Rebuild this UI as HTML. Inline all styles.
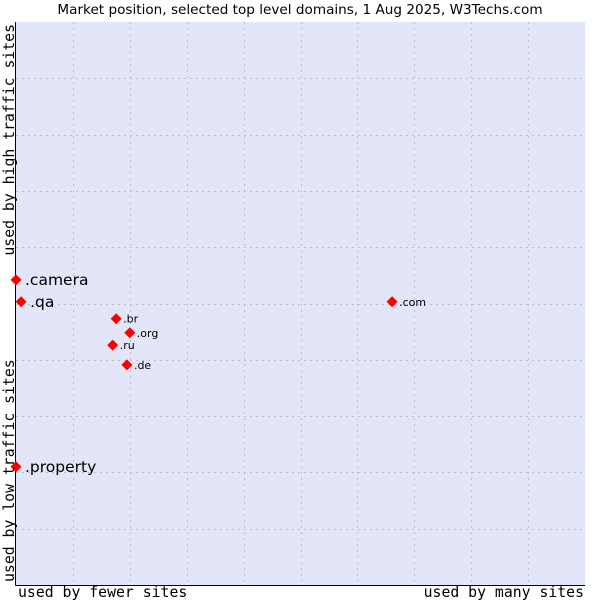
<!DOCTYPE html>
<html><head><meta charset="utf-8"><style>
body{margin:0;background:#fff;width:600px;height:600px;overflow:hidden}
svg{display:block}
</style></head><body>
<svg width="600" height="600" xmlns="http://www.w3.org/2000/svg">
<text x="300" y="14" text-anchor="middle" font-family="DejaVu Sans, sans-serif" font-size="13.6">Market position, selected top level domains, 1 Aug 2025, W3Techs.com</text>
<rect x="16" y="22" width="569" height="563" fill="#e3e5f8"/>
<g id="grid"></g>
<line x1="15.5" y1="22" x2="15.5" y2="585.5" stroke="#000"/>
<line x1="15.5" y1="585.5" x2="585" y2="585.5" stroke="#000"/>
<g id="points"></g>
<text x="18" y="597" font-family="DejaVu Sans Mono, monospace" font-size="14.8">used by fewer sites</text>
<text x="584" y="597" text-anchor="end" font-family="DejaVu Sans Mono, monospace" font-size="14.8">used by many sites</text>
<text transform="translate(14,582) rotate(-90)" font-family="DejaVu Sans Mono, monospace" font-size="14.8">used by low traffic sites</text>
<text transform="translate(14,24) rotate(-90)" text-anchor="end" font-family="DejaVu Sans Mono, monospace" font-size="14.8">used by high traffic sites</text>
</svg>
<script>
const labels=[".camera",".qa",".br",".org",".ru",".de",".com",".property"];
const xVals=[0,0.9,17.6,20.0,17.0,19.5,66.1,0];
const yVals=[54.2,50.3,47.3,44.8,42.6,39.1,50.3,21.0];
const bigLabel=[true,true,false,false,false,false,false,true];
const L=16,R=585,T=22,B=585;
const sx=v=>L+v/100*(R-L), sy=v=>B-v/100*(B-T);
const NS="http://www.w3.org/2000/svg";
const grid=document.getElementById('grid');
for(let i=1;i<10;i++){
  const x=Math.round(L+i*(R-L)/10)+0.5;
  const l=document.createElementNS(NS,'line');
  l.setAttribute('x1',x);l.setAttribute('x2',x);l.setAttribute('y1',T);l.setAttribute('y2',B);
  l.setAttribute('stroke','#c0c0c0');l.setAttribute('stroke-dasharray','2,4');
  
  
  grid.appendChild(l);
  const y=Math.round(T+i*(B-T)/10)+0.5;
  const h=document.createElementNS(NS,'line');
  h.setAttribute('x1',L);h.setAttribute('x2',R);h.setAttribute('y1',y);h.setAttribute('y2',y);
  h.setAttribute('stroke','#c0c0c0');h.setAttribute('stroke-dasharray','2,4');
  
  
  grid.appendChild(h);
}
const pts=document.getElementById('points');
labels.forEach((lb,i)=>{
  const x=sx(xVals[i]),y=sy(yVals[i]);
  const p=document.createElementNS(NS,'polygon');
  p.setAttribute('points',`${x},${y-5.5} ${x+5.5},${y} ${x},${y+5.5} ${x-5.5},${y}`);
  p.setAttribute('fill','#f00');
  
  
  pts.appendChild(p);
  const t=document.createElementNS(NS,'text');
  t.setAttribute('x',x+(bigLabel[i]?9:7));
  t.setAttribute('y',y+(bigLabel[i]?5:4));
  t.setAttribute('font-family','DejaVu Sans, sans-serif');
  t.setAttribute('font-size',bigLabel[i]?15.5:11);
  t.textContent=lb;
  
  
  pts.appendChild(t);
});
</script>
</body></html>
